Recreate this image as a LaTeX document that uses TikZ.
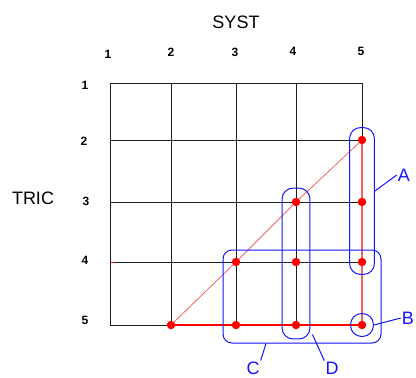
\documentclass[tikz,border=0pt]{standalone}
\usepackage{fontspec}
\setmainfont{Liberation Sans}
\usetikzlibrary{calc,fit,positioning}
\definecolor{gridc}{HTML}{1E1E1E}
\definecolor{dotred}{HTML}{FF0000}
\definecolor{pale}{HTML}{F26464}
\definecolor{grpblue}{HTML}{1414FF}
\tikzset{gridline/.style={gridc,line width=1pt},
  rdot/.style={circle,fill=dotred,inner sep=0pt,minimum size=8.5pt},
  grp/.style={draw=grpblue,line width=1pt,rounded corners=11pt,inner sep=8pt},
  leader/.style={grpblue,line width=1pt},
  tag/.style={grpblue,inner sep=1pt,font=\fontsize{18}{20}\selectfont},
  num/.style={font=\fontsize{12}{14}\selectfont\bfseries},
  axis/.style={font=\fontsize{18}{20}\selectfont}}

\begin{document}
\begin{tikzpicture}[x=1pt,y=-1pt]
\useasboundingbox (0,0) rectangle (416,378);
\foreach \c/\x in {1/110,2/171,3/236,4/296,5/362}{\foreach \r/\y in {1/83,2/140,3/202,4/262,5/325}{\coordinate (g\c\r) at (\x,\y);}}
% grid and headings
\foreach \i in {1,...,5}{\draw[gridline] (g\i1)--(g\i5);\draw[gridline] (g1\i)--(g5\i);}
\node[axis] (syst) at (236,22){SYST};\node[axis] (tric) at (33,198){TRIC};
\foreach \c/\x/\y in {1/108/54,2/171/52,3/235/52,4/293/51,5/361/51}{\node[num] (col\c) at (\x,\y){\c};}
\foreach \r/\x/\y in {1/85/85,2/84/141,3/86/201,4/85/260,5/85/320}{\node[num] (row\r) at (\x,\y){\r};}
% red points and links
\foreach \p in {52,43,53,34,44,54,25,35,45,55}{\node[rdot] (d\p) at (g\p){};}
\draw[pale,line width=0.8pt] (d25)--(d34)--(d43)--(d52);
\draw[pale,line width=2pt] (d52)--(d53)--(d54)--(d55);
\draw[dotred,line width=1.3pt] (d25)--(d35)--(d45)--(d55);
\draw[dotred,line width=1pt] (g14)--++(5,0);
% blue groups
\node[grp,fit=(d52)(d54)] (A){};
\node[grp,fit=(d55),inner sep=7pt] (B){};
\node[grp,fit=(d43)(d45),inner sep=9.5pt] (D){};
\coordinate (cTL) at ($(d34)+(-13,-12)$);\coordinate (cBR) at ($(d55)+(19,18)$);
\node[grp,fit=(cTL)(cBR),inner sep=0pt,rounded corners=9pt] (C){};
\node[tag] (labA) at (404,175){A};\node[tag] (labB) at (408,318){B};
\node[tag] (labC) at (253,368){C};\node[tag] (labD) at (332,368){D};
\draw[leader] ([yshift=10pt]A.east)--(labA.west);
\draw[leader] (B.east)--(labB.west);
\draw[leader] ([xshift=-36pt]C.south)--(labC.north east);
\draw[leader] ([xshift=2pt,yshift=5pt]D.south east)--(labD.north west);
\end{tikzpicture}
\end{document}
